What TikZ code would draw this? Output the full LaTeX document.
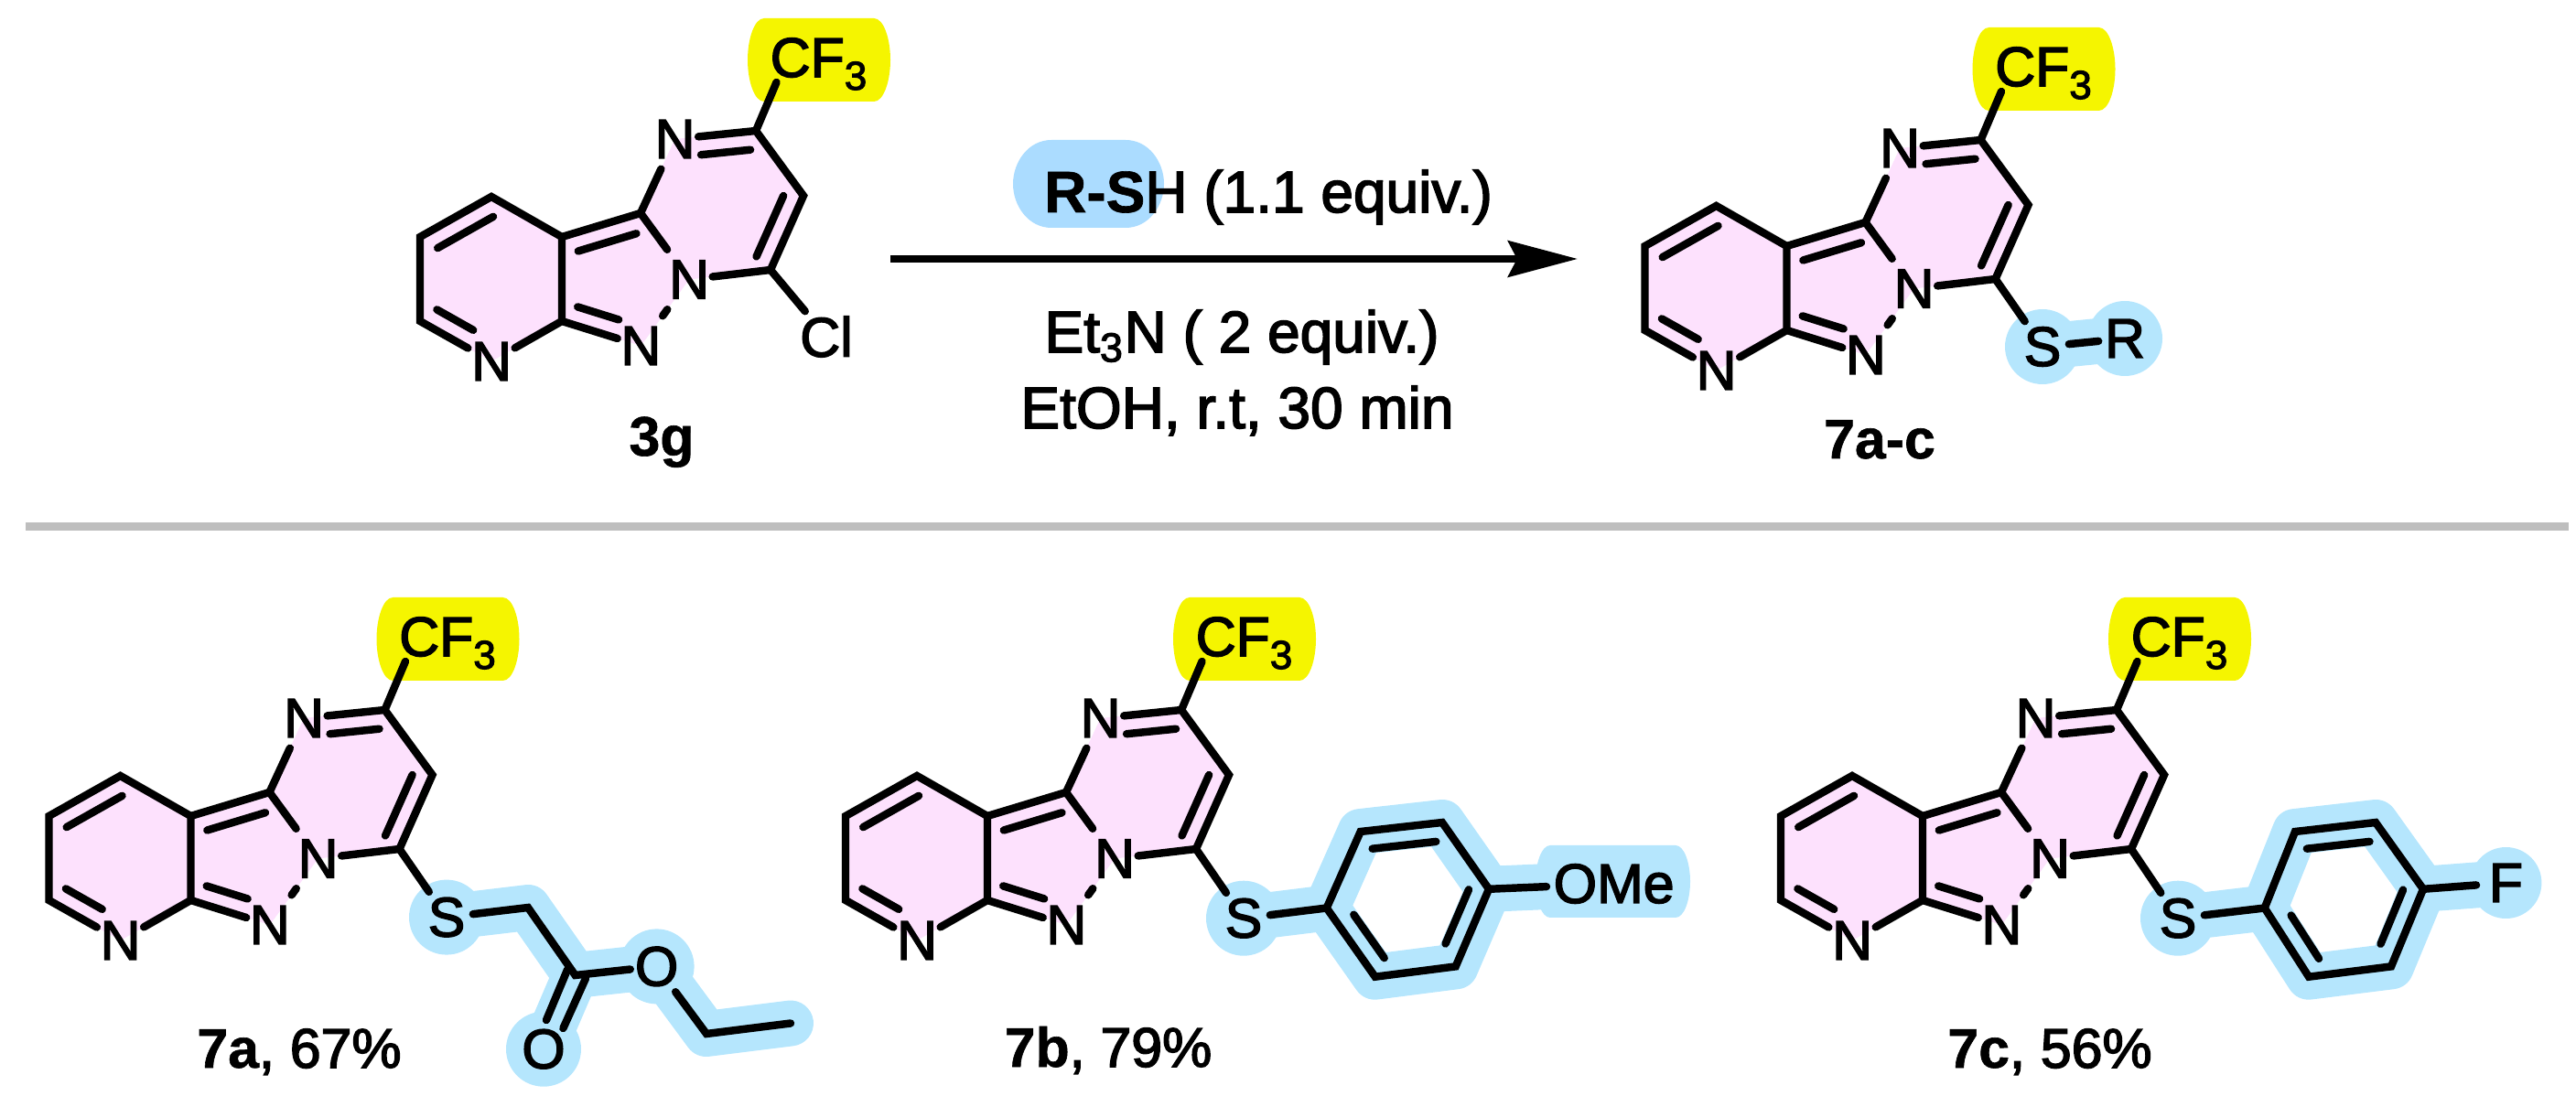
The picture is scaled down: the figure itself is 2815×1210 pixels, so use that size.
\documentclass[tikz,border=0pt]{standalone}
\usepackage{fontspec}
\setmainfont{Liberation Sans}[FakeBold=2.5,BoldFont={Liberation Sans Bold},BoldFeatures={FakeBold=1}]
\usetikzlibrary{arrows.meta,backgrounds,calc}
\definecolor{ringpink}{HTML}{FDE1FD}
\definecolor{cfyellow}{HTML}{F5F500}
\definecolor{hlblue}{HTML}{B5E6FD}
\definecolor{rshblue}{HTML}{ABDCFF}
\definecolor{rulegray}{HTML}{BEBEBE}
\newcommand{\dbl}[4]{\draw[bond]($(#1)!#3!(#2)!0.2cm!-90:(#2)$)--($(#1)!#4!(#2)!0.2cm!-90:(#2)$);}
\newcommand{\three}{\raisebox{-4pt}{\fontsize{12.5}{13}\selectfont 3}}
\newcommand{\lobe}[6]{
\pgfmathsetmacro{\ym}{(#4+#5)/2}
\pgfmathsetmacro{\yq}{(#5-#4)/4}
\fill[#1](#2+#6,#4)--(#3-#6,#4)..controls(#3-.4*#6,#4)and(#3,\ym-\yq)..(#3,\ym)
..controls(#3,\ym+\yq)and(#3-.4*#6,#5)..(#3-#6,#5)--(#2+#6,#5)
..controls(#2+.4*#6,#5)and(#2,\ym+\yq)..(#2,\ym)
..controls(#2,\ym-\yq)and(#2+.4*#6,#4)..(#2+#6,#4)--cycle;
}
\tikzset{
every node/.style={font=\fontsize{17.3}{21}\selectfont,inner sep=0pt},
reagent/.style={font=\fontsize{18.2}{21}\selectfont,anchor=base},
bond/.style={line width=2.4pt,line cap=round,line join=miter},
atom/.style={minimum width=14.2pt,minimum height=18.2pt},
satom/.style={minimum width=16pt,minimum height=15.4pt},
hl/.style={draw=hlblue,line width=14.2pt,line cap=round,line join=round},
core/.pic={
\coordinate(top)at(537,215);
\coordinate(ul)at(459,259);
\coordinate(ll)at(459,351);
\coordinate(c7)at(614,351);
\coordinate(c3a)at(614,259);
\coordinate(c3)at(700,233);
\coordinate(cf)at(826,143);
\coordinate(ch)at(878,214);
\coordinate(cx)at(842,295);
\coordinate(fend)at(848.5,90);
\node[atom](npy)at(537,395){N};
\node[atom](ntwo)at(700.4,378){N};
\node[atom](none)at(753,305.5){N};
\node[atom](nup)at(737.5,152){N};
\node[anchor=base](cfthree)at(894.5,84){CF\three};
\begin{scope}[on background layer]
\fill[ringpink](top)--(ul)--(ll)--(npy.center)--(c7)--(ntwo.center)--(none.center)--(cx)--(ch)--(cf)--(nup.center)--(c3)--(c3a)--cycle;
\lobe{cfyellow}{817}{973}{20}{111}{18}
\end{scope}
\draw[bond](npy)--(ll)--(ul)--(top)--(c3a)--(c7)--(npy);
\draw[bond](c3a)--(c3)--(none);
\draw[bond](c7)--(ntwo)--(none)--(cx)--(ch)--(cf)--(nup)--(c3);
\draw[bond](cf)--(fend);
\dbl{ul}{top}{.12}{.90}
\dbl{npy}{ll}{.38}{.89}
\dbl{c3a}{c3}{.14}{.88}
\dbl{ntwo}{c7}{.35}{.87}
\dbl{nup}{cf}{.30}{.91}
\dbl{ch}{cx}{.10}{.92}
}
}
\begin{document}
\begin{tikzpicture}[x=0.01cm,y=-0.01cm]
\useasboundingbox(0,0)rectangle(2815,1210);
%top row
\pic(g)at(0,0){core};
\node[satom](gcl)at(903,368){Cl};
\draw[bond](gcx)--(gcl);
\node[anchor=base](glabel)at(723,498){\textbf{3g}};
\lobe{rshblue}{1107}{1272}{153}{249}{42}
\node[reagent](rsh)at(1386,232){\textbf{R-S}H (1.1 equiv.)};
\node[reagent](base)at(1357,385){Et\textsubscript{3}N ( 2 equiv.)};
\node[reagent](cond)at(1352,468){EtOH, r.t, 30 min};
\coordinate(rxnstart)at(973,283);
\coordinate(rxnend)at(1724,283);
\draw[line width=2.3pt,-{Stealth[length=21.6pt,width=11.2pt,inset=2.8pt]}](rxnstart)--(rxnend);
\pic(p)at(1338.5,10){core};
\node[satom](ps)at(2232,379){S};
\node[satom](pr)at(2322,370){R};
\begin{scope}[on background layer]
\fill[hlblue](ps)circle(41);
\fill[hlblue](pr)circle(41);
\draw[hl](ps.center)--(pr.center);
\end{scope}
\draw[bond](pcx)--(ps)--(pr);
\node[anchor=base](plabel)at(2054,501){\textbf{7a-c}};
%divider
\coordinate(ruleleft)at(28,575.5);
\coordinate(ruleright)at(2807,575.5);
\draw[rulegray,line width=2.56pt](ruleleft)--(ruleright);
%7a
\pic(a)at(-405.5,633){core};
\node[satom](as)at(488,1002.6){S};
\node[satom](ao)at(717.6,1056.4){O};
\node[satom](aox)at(594,1146.7){O};
\coordinate(ach)at(577,992);
\coordinate(aco)at(628.6,1066);
\coordinate(aet)at(772,1130);
\coordinate(ame)at(864,1118.5);
\coordinate(aa)at(620,1060);
\coordinate(ab)at(597,1115);
\coordinate(ac)at(640,1069.5);
\coordinate(ad)at(615.4,1124);
\begin{scope}[on background layer]
\fill[hlblue](as)circle(41);
\fill[hlblue](ao)circle(41);
\fill[hlblue](aox)circle(41);
\draw[hl](as.center)--(ach)--(aco)--(ao.center)--(aet)--(ame);
\draw[hl](aco)--(aox.center);
\end{scope}
\draw[bond](acx)--(as)--(ach)--(aco)--(ao)--(aet)--(ame);
\draw[bond](aa)--(ab);
\draw[bond](ac)--(ad);
\node[anchor=base](alabel)at(327,1167){\textbf{7a}, 67\%};
%7b
\pic(b)at(465,633){core};
\node[satom](bs)at(1359,1003.7){S};
\node[anchor=west,inner sep=2pt](bome)at(1690,966){OMe};
\coordinate(bi)at(1449.7,992.5);
\coordinate(bo)at(1486.7,909);
\coordinate(bm)at(1576,899);
\coordinate(bp)at(1627,971.8);
\coordinate(bq)at(1590.7,1056.4);
\coordinate(br)at(1502.7,1067.7);
\begin{scope}[on background layer]
\fill[hlblue](bs)circle(41);
\draw[hl](bs.center)--(bi);
\draw[hl](bp)--(bome.center);
\draw[hl](bi)--(bo)--(bm)--(bp)--(bq)--(br)--cycle;
\lobe{hlblue}{1678}{1847}{924}{1003}{16}
\end{scope}
\draw[bond](bcx)--(bs)--(bi);
\draw[bond](bi)--(bo)--(bm)--(bp)--(bq)--(br)--cycle;
\draw[bond](bp)--(bome);
\dbl{bo}{bm}{.12}{.90}
\dbl{bp}{bq}{.10}{.80}
\dbl{br}{bi}{.12}{.75}
\node[anchor=base](blabel)at(1211,1166){\textbf{7b}, 79\%};
%7c
\pic(c)at(1487,633){core};
\node[satom](cs)at(2380,1003.7){S};
\node[anchor=center,minimum width=18pt,minimum height=15pt](cfl)at(2738.4,965){F};
\coordinate(ci)at(2474.7,992.5);
\coordinate(co)at(2508,909);
\coordinate(cm)at(2596,899);
\coordinate(cp)at(2648,971.8);
\coordinate(cq)at(2613,1056.4);
\coordinate(cr)at(2523,1067.7);
\begin{scope}[on background layer]
\fill[hlblue](cs)circle(41);
\fill[hlblue](cfl)circle(39);
\draw[hl](cs.center)--(ci);
\draw[hl](cp)--(cfl.center);
\draw[hl](ci)--(co)--(cm)--(cp)--(cq)--(cr)--cycle;
\end{scope}
\draw[bond](ccx)--(cs)--(ci);
\draw[bond](ci)--(co)--(cm)--(cp)--(cq)--(cr)--cycle;
\draw[bond](cp)--(cfl);
\dbl{co}{cm}{.12}{.90}
\dbl{cp}{cq}{.10}{.80}
\dbl{cr}{ci}{.12}{.75}
\node[anchor=base](clabel)at(2240,1167){\textbf{7c}, 56\%};
\end{tikzpicture}
\end{document}
